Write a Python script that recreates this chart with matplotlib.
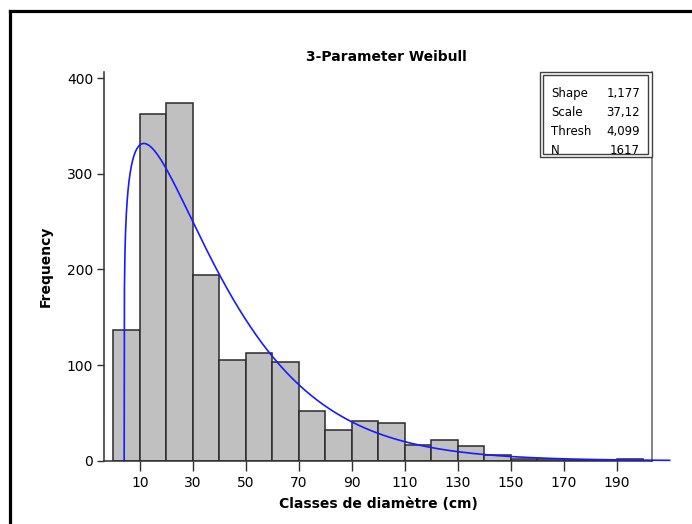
import numpy as np
import matplotlib
matplotlib.use("Agg")
import matplotlib.pyplot as plt
from matplotlib.patches import Rectangle
from matplotlib.lines import Line2D

# ---- data ----
bin_edges = list(range(0, 201, 10))
counts = [137, 363, 374, 194, 105, 113, 103, 52, 32, 41, 39, 16, 22, 15, 6, 2, 2, 1, 1, 2]
shape_k = 1.177
scale_l = 37.12
thresh = 4.099
n_obs = 1617
xticks = [10, 30, 50, 70, 90, 110, 130, 150, 170, 190]
yticks = [0, 100, 200, 300, 400]
stat_labels = ["Shape", "Scale", "Thresh", "N"]
stat_values = ["1,177", "37,12", "4,099", "1617"]
title = "3-Parameter Weibull"
xlabel = "Classes de diamètre (cm)"
ylabel = "Frequency"

W, H = 692, 524
fig = plt.figure(figsize=(W / 100, H / 100), dpi=100)
fig.patch.set_facecolor("white")

def fx(px):
    return px / W

def fy(py):
    return 1 - py / H

ax_l, ax_r, ax_t, ax_b = 104.3, 651.7, 72.0, 460.7
ax = fig.add_axes([fx(ax_l), fy(ax_b), fx(ax_r) - fx(ax_l), fy(ax_t) - fy(ax_b)])

# histogram bars
lefts = bin_edges[:-1]
widths = [bin_edges[i + 1] - bin_edges[i] for i in range(len(lefts))]
ax.bar(lefts, counts, width=widths, align="edge", color="#c0c0c0",
       edgecolor="#2a2a2a", linewidth=1.1, zorder=2)

# fitted Weibull curve (from displayed parameters)
binw = widths[0]
xs = np.linspace(thresh, 210, 2000)
z = (xs - thresh) / scale_l
pdf = (shape_k / scale_l) * np.power(np.maximum(z, 1e-12), shape_k - 1) * np.exp(-np.power(z, shape_k))
pdf[0] = 0
ax.plot(xs, pdf * n_obs * binw, color="#1a1aff", linewidth=1.2, zorder=3, clip_on=False)

ax.set_xlim(-3.4, 203.2)
ax.set_ylim(0, 406.5)
ax.set_xticks(xticks)
ax.set_yticks(yticks)
ax.tick_params(axis="x", length=7, width=1, color="#303030", labelsize=10, pad=4)
ax.tick_params(axis="y", length=5, width=1, color="#303030", labelsize=10, pad=3)
for s in ["left", "bottom"]:
    ax.spines[s].set_color("#303030")
    ax.spines[s].set_linewidth(1.1)
ax.spines["right"].set_color("#606060")
ax.spines["right"].set_linewidth(1.1)
ax.spines["top"].set_visible(False)

ax.set_xlabel(xlabel, fontsize=10, fontweight="bold", labelpad=5)
ax.set_ylabel(ylabel, fontsize=10, fontweight="bold", labelpad=10)

fig.text(fx(386), fy(57), title, ha="center", va="center", fontsize=10, fontweight="bold")

# stats box (double border)
fig.add_artist(Rectangle((fx(540), fy(157)), fx(651.7) - fx(540), fy(72) - fy(157),
                         transform=fig.transFigure, fill=True, facecolor="white",
                         edgecolor="#404040", linewidth=1.0))
fig.add_artist(Rectangle((fx(543.3), fy(153.7)), fx(647.7) - fx(543.3), fy(75.3) - fy(153.7),
                         transform=fig.transFigure, fill=False,
                         edgecolor="#404040", linewidth=1.0))
row_y = [94, 112.7, 131.5, 150]
for lab, val, yy in zip(stat_labels, stat_values, row_y):
    fig.text(fx(551), fy(yy), lab, ha="left", va="center", fontsize=8.5)
    fig.text(fx(640), fy(yy), val, ha="right", va="center", fontsize=8.5)

# outer thick border (top and left)
fig.add_artist(Line2D([fx(10.3), 1.02], [fy(10.8), fy(10.8)], transform=fig.transFigure,
                      color="black", linewidth=2.3, solid_capstyle="projecting"))
fig.add_artist(Line2D([fx(10.3), fx(10.3)], [fy(10.8), -0.02], transform=fig.transFigure,
                      color="black", linewidth=2.3, solid_capstyle="projecting"))

fig.savefig("out.png", dpi=100)
